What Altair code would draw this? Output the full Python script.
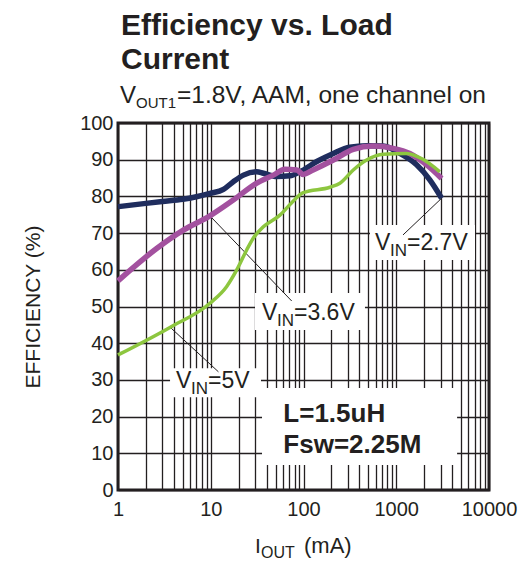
import altair as alt
import pandas as pd

FONT = "Liberation Sans"
INK = "#231f20"

# ---- data ----
iout_27 = [1, 2, 3, 5, 7, 9.8, 13.7, 17.5, 22.5, 31.3, 36.9, 51.5, 71.4, 91.5, 139, 210, 316, 480, 724, 1093, 1658, 2300, 3084]
eff_27 = [77.2, 78.1, 78.6, 79.2, 79.9, 80.8, 81.9, 84.0, 85.8, 86.7, 86.3, 85.4, 85.6, 86.7, 89.5, 91.7, 93.4, 93.8, 93.7, 91.7, 88.6, 84.5, 79.5]

iout_36 = [1, 2.61, 5.06, 9.8, 17.5, 31.3, 47.3, 63, 84.5, 99.3, 127, 210, 344, 565, 927, 1400, 2130, 3084]
eff_36 = [57.0, 65.8, 70.8, 74.7, 79.0, 83.6, 85.8, 87.4, 87.2, 86.0, 87.2, 89.9, 92.8, 93.7, 93.1, 91.7, 88.6, 84.9]

iout_5 = [1, 3.63, 9.8, 14.8, 19, 24.4, 28.7, 36.9, 55.7, 74.6, 99.3, 193, 247, 344, 480, 724, 1285, 1940, 2950]
eff_5 = [36.8, 44.3, 50.9, 55.4, 59.9, 65.4, 68.6, 71.7, 74.9, 78.3, 81.0, 82.5, 83.6, 87.2, 89.9, 91.5, 91.7, 90.1, 86.7]

x_ticks = [1, 2, 3, 4, 5, 6, 7, 8, 9,
           10, 20, 30, 40, 50, 60, 70, 80, 90,
           100, 200, 300, 400, 500, 600, 700, 800, 900,
           1000, 2000, 3000, 4000, 5000, 6000, 7000, 8000, 9000, 10000]
y_ticks = [0, 10, 20, 30, 40, 50, 60, 70, 80, 90, 100]

# label anchors (left / baseline) in data units
label_iout = [590, 35.7, 4.22]
label_eff = [65.4, 46.3, 27.8]
label_rest = ["=2.7V", "=3.6V", "=5V"]

# white label backgrounds
box_iout = [521, 30, 3.64, 35.7]
box_iout2 = [7060, 460, 34.8, 4530]
box_eff = [72.2, 53.7, 33.2, 27.8]
box_eff2 = [62.7, 43.6, 25.3, 6.8]

# leader lines
lead_iout = [3084, 9.8, 3.63]
lead_eff = [79.5, 74.7, 44.4]
lead_iout2 = [1183, 74.6, 12.1]
lead_eff2 = [69.5, 51.5, 32.2]

# ---- chart ----
xscale = alt.Scale(type="log", domain=[1, 10000], nice=False)
yscale = alt.Scale(domain=[0, 100], nice=False)
label_expr = "indexof([1,10,100,1000,10000], datum.value) >= 0 ? format(datum.value, 'd') : ''"

X = alt.X("iout:Q", scale=xscale,
          axis=alt.Axis(values=x_ticks, labelExpr=label_expr, labelOverlap=False,
                        labelFlush=False, labelPadding=9, title=None))
Y = alt.Y("eff:Q", scale=yscale,
          axis=alt.Axis(values=y_ticks, labelPadding=5, title="EFFICIENCY (%)",
                        titlePadding=36))


def curve(xs, ys, color, width):
    df = pd.DataFrame({"iout": xs, "eff": ys})
    return alt.Chart(df).mark_line(color=color, strokeWidth=width,
                                   interpolate="monotone").encode(x=X, y=Y)


boxes = alt.Chart(pd.DataFrame({"iout": box_iout, "iout2": box_iout2,
                                "eff": box_eff, "eff2": box_eff2})).mark_rect(
    color="white").encode(x=X, x2="iout2:Q", y=Y, y2="eff2:Q")

leaders = alt.Chart(pd.DataFrame({"iout": lead_iout, "iout2": lead_iout2,
                                  "eff": lead_eff, "eff2": lead_eff2})).mark_rule(
    color=INK, strokeWidth=1).encode(x=X, x2="iout2:Q", y=Y, y2="eff2:Q")

lab_df = pd.DataFrame({"iout": label_iout, "eff": label_eff, "rest": label_rest})
lab_v = alt.Chart(lab_df).mark_text(align="left", baseline="alphabetic", font=FONT,
                                    fontSize=23, color=INK).encode(x=X, y=Y, text=alt.value("V"))
lab_in = alt.Chart(lab_df).mark_text(align="left", baseline="alphabetic", font=FONT,
                                     fontSize=17, dx=15, dy=6, color=INK).encode(
    x=X, y=Y, text=alt.value("IN"))
lab_rest = alt.Chart(lab_df).mark_text(align="left", baseline="alphabetic", font=FONT,
                                       fontSize=23, dx=32, color=INK).encode(
    x=X, y=Y, text="rest:N")

cond_df = pd.DataFrame({"iout": [60.6, 60.6], "eff": [18.6, 10.0],
                        "txt": ["L=1.5uH", "Fsw=2.25M"]})
cond = alt.Chart(cond_df).mark_text(align="left", baseline="alphabetic", font=FONT,
                                    fontSize=26, fontWeight="bold", color=INK).encode(
    x=X, y=Y, text="txt:N")

one = alt.Data(values=[{"k": 1}])


def ptext(txt, px, py, size, bold=False):
    return alt.Chart(one).mark_text(align="left", baseline="alphabetic", font=FONT,
                                    fontSize=size, fontWeight="bold" if bold else "normal",
                                    color=INK).encode(
        x=alt.value(px), y=alt.value(py), text=alt.value(txt))


titles = [
    ptext("Efficiency vs. Load", 3, -88, 30, True),
    ptext("Current", 3, -54, 30, True),
    ptext("V", 2, -20, 24),
    ptext("OUT1", 18, -15, 15),
    ptext("=1.8V, AAM, one channel on", 59, -20, 24.5),
    ptext("I", 137, 430, 21),
    ptext("OUT", 143, 435, 16),
    ptext("(mA)", 186, 430, 22),
]

chart = alt.layer(
    boxes, leaders,
    curve(iout_27, eff_27, "#1f2d5e", 5.5),
    curve(iout_36, eff_36, "#a3519f", 5.5),
    curve(iout_5, eff_5, "#8dc63f", 3.5),
    lab_v, lab_in, lab_rest, cond, *titles
).properties(
    width=371, height=367,
    autosize=alt.AutoSizeParams(type="none"),
    padding={"left": 110, "top": 115, "right": 30, "bottom": 70},
).configure_view(
    stroke=INK, strokeWidth=3
).configure_axis(
    domain=False, ticks=False, grid=True, gridColor=INK, gridWidth=1.3, gridOpacity=1,
    labelFont=FONT, labelFontSize=20, labelColor=INK,
    titleFont=FONT, titleFontSize=21, titleFontWeight="normal", titleColor=INK,
)

chart.save("out.html", embed_options={"renderer": "svg", "actions": False})
